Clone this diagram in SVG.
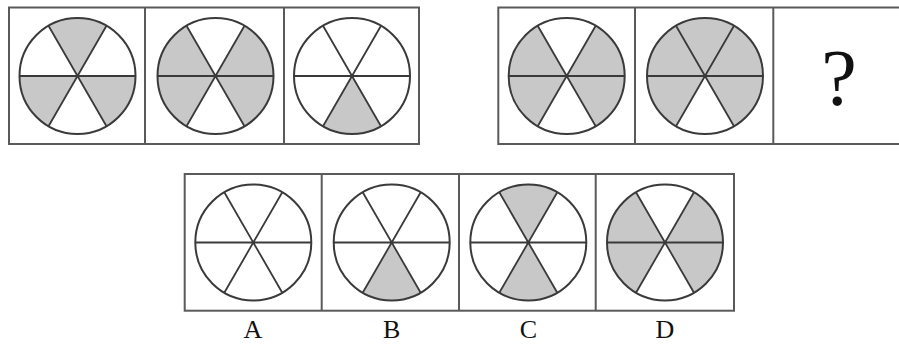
<svg xmlns="http://www.w3.org/2000/svg" width="899" height="345" viewBox="0 0 899 345">
<style>
.frame{fill:none;stroke:#5a5a5a;stroke-width:2}
.sec{fill:#c8c8c8;stroke:none}
.spokes{fill:none;stroke:#3a3a3a;stroke-width:1.8}
.rim{fill:none;stroke:#3a3a3a;stroke-width:2}
.lbl{font-family:"Liberation Serif","Times New Roman",serif;fill:#111;text-anchor:middle}
</style>
<defs>
<path id="sT" class="sec" d="M0,0 L-29,-50.23 A58,58 0 0 1 29,-50.23 Z"/>
<path id="sUR" class="sec" d="M0,0 L29,-50.23 A58,58 0 0 1 58,0 Z"/>
<path id="sLR" class="sec" d="M0,0 L58,0 A58,58 0 0 1 29,50.23 Z"/>
<path id="sB" class="sec" d="M0,0 L29,50.23 A58,58 0 0 1 -29,50.23 Z"/>
<path id="sLL" class="sec" d="M0,0 L-29,50.23 A58,58 0 0 1 -58,0 Z"/>
<path id="sUL" class="sec" d="M0,0 L-58,0 A58,58 0 0 1 -29,-50.23 Z"/>
<g id="wheel">
<circle class="rim" cx="0" cy="0" r="58"/>
<path class="spokes" d="M-58,0 H58 M-29,-50.23 L29,50.23 M29,-50.23 L-29,50.23"/>
</g>
</defs>

<g id="frames">
<rect class="frame" x="9" y="7.5" width="410" height="136.5"/>
<line class="frame" x1="145" y1="7.5" x2="145" y2="144"/>
<line class="frame" x1="284" y1="7.5" x2="284" y2="144"/>
<path class="frame" d="M905,7.5 H498.3 V144 H905"/>
<line class="frame" x1="635" y1="7.5" x2="635" y2="144"/>
<line class="frame" x1="773.3" y1="7.5" x2="773.3" y2="144"/>
<rect class="frame" x="184.7" y="174" width="549.3" height="136.7"/>
<line class="frame" x1="321.7" y1="174" x2="321.7" y2="310.7"/>
<line class="frame" x1="459" y1="174" x2="459" y2="310.7"/>
<line class="frame" x1="595.7" y1="174" x2="595.7" y2="310.7"/>
</g>

<g id="p1" transform="translate(77.5,76)">
<use href="#sT"/><use href="#sLL"/><use href="#sLR"/><use href="#wheel"/>
</g>
<g id="p2" transform="translate(215.5,76)">
<use href="#sUL"/><use href="#sUR"/><use href="#sLL"/><use href="#sLR"/><use href="#wheel"/>
</g>
<g id="p3" transform="translate(352,76)">
<use href="#sB"/><use href="#wheel"/>
</g>
<g id="p4" transform="translate(566.7,76)">
<use href="#sUL"/><use href="#sUR"/><use href="#sLL"/><use href="#sLR"/><use href="#wheel"/>
</g>
<g id="p5" transform="translate(705,76)">
<use href="#sT"/><use href="#sUL"/><use href="#sUR"/><use href="#sLL"/><use href="#sLR"/><use href="#wheel"/>
</g>
<g id="p6">
<text class="lbl" x="839" y="105" font-size="80">?</text>
</g>

<g id="optA" transform="translate(253.3,242.5)">
<use href="#wheel"/>
</g>
<g id="optB" transform="translate(391.7,242.5)">
<use href="#sB"/><use href="#wheel"/>
</g>
<g id="optC" transform="translate(528.3,242.5)">
<use href="#sT"/><use href="#sB"/><use href="#wheel"/>
</g>
<g id="optD" transform="translate(665,242.5)">
<use href="#sUL"/><use href="#sUR"/><use href="#sLL"/><use href="#sLR"/><use href="#wheel"/>
</g>

<g id="labels">
<text class="lbl" x="253" y="338" font-size="26">A</text>
<text class="lbl" x="391.7" y="338" font-size="26">B</text>
<text class="lbl" x="528.3" y="338" font-size="26">C</text>
<text class="lbl" x="665" y="338" font-size="26">D</text>
</g>
</svg>
